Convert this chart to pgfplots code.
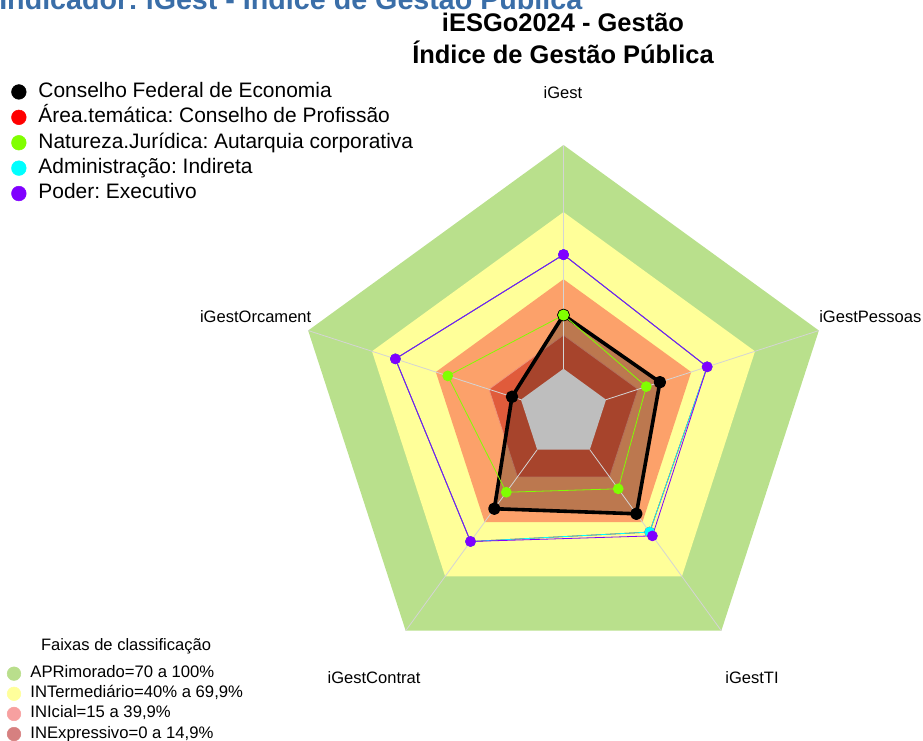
\documentclass[border=0pt]{standalone}
\usepackage{pgfplots}
\pgfplotsset{compat=1.18}
\usepackage{pgfplotstable}
\usepackage{fontspec}
\setmainfont{Liberation Sans}
\usepackage{graphicx}

\definecolor{bApr}{RGB}{185,224,140}
\definecolor{bInt}{RGB}{255,255,153}
\definecolor{bIni}{RGB}{252,161,106}
\definecolor{bInx}{RGB}{224,91,59}
\definecolor{bCen}{RGB}{190,190,190}
\definecolor{gridc}{RGB}{212,212,212}
\definecolor{cPur}{RGB}{128,0,255}
\definecolor{cGre}{RGB}{128,255,0}
\definecolor{cCya}{RGB}{0,255,255}
\definecolor{cRed}{RGB}{255,0,0}
\definecolor{tBlue}{RGB}{58,110,168}
\definecolor{lApr}{RGB}{185,222,140}
\definecolor{lInt}{RGB}{255,255,155}
\definecolor{lIni}{RGB}{247,160,160}
\definecolor{lInx}{RGB}{214,128,128}

% axes: iGest, iGestPessoas, iGestTI, iGestContrat, iGestOrcament (first row repeated to close)
\pgfplotstableread{
ang apr int ini inx zero
90 100 70 40 15 0
18 100 70 40 15 0
-54 100 70 40 15 0
-126 100 70 40 15 0
162 100 70 40 15 0
90 100 70 40 15 0
}\bands

\pgfplotstableread{
ang cfe area nat adm pod
90 24 51 24 51 51
18 25.3 47.5 18.9 47.5 47.5
-54 35.4 45.5 21.6 45.5 47.6
-126 32.6 50.7 23.5 50.7 50.7
162 4.2 59 34.4 59 59
90 24 51 24 51 51
}\data

\pgfplotsset{
  /pgfplots/table/rad/.style={
    x expr={(\thisrow{#1}+20)/120*cos(\thisrow{ang})},
    y expr={(\thisrow{#1}+20)/120*sin(\thisrow{ang})}},
  ledot/.style 2 args={legend image code/.code={\fill[#1] (0pt,0pt) circle (#2);}}
}

\begin{document}
\frenchspacing
\begin{tikzpicture}
\useasboundingbox (0,0) rectangle (692.25pt,555pt);
\clip (0,0) rectangle (692.25pt,555pt);
\begin{axis}[at={(0,0)}, anchor=south west, scale only axis,
  width=692.25pt, height=555pt,
  xmin=-2.09870, xmax=1.33892, ymin=-1.21601, ymax=1.54004,
  hide axis, clip=false,
  legend style={at={(axis description cs:0,1)}, anchor=north west,
    xshift=8.25pt, yshift=-61.25pt, draw=none, fill=none, inner sep=0pt,
    row sep=4.05pt,
    nodes={inner sep=0pt, text height=11.5pt, text depth=3.5pt},
    font=\fontsize{15.7}{18}\selectfont\frenchspacing,
    /tikz/every odd column/.append style={column sep=9pt}},
  legend cell align=left]
\addplot[forget plot, draw=none, fill=bApr] table[rad=apr] {\bands};
\addplot[forget plot, draw=none, fill=bInt] table[rad=int] {\bands};
\addplot[forget plot, draw=none, fill=bIni] table[rad=ini] {\bands};
\addplot[forget plot, draw={rgb,255:red,236;green,150;blue,128}, line width=0.5pt, fill=bInx] table[rad=inx] {\bands};
\addplot[forget plot, draw=none, fill=black, fill opacity=0.25] table[rad=cfe] {\data};
\addplot[forget plot, draw=none, fill=bCen] table[rad=zero] {\bands};
\pgfplotsinvokeforeach{90,18,-54,-126,162}{
  \draw[gridc, line width=0.6pt] (axis cs:{cos(#1)/6},{sin(#1)/6}) -- (axis cs:{cos(#1)},{sin(#1)});
}
\addplot[forget plot, black, line width=2.7pt, line join=round, mark=*, mark size=3.3pt] table[rad=cfe] {\data};
\addplot[forget plot, cRed, line width=0.6pt, mark=*, mark size=3.7pt, mark options={fill=cRed}] table[rad=area] {\data};
\addplot[forget plot, cGre, line width=0.6pt, mark=*, mark size=3.7pt, mark options={fill=cGre}] table[rad=nat] {\data};
\addplot[forget plot, cCya, line width=0.6pt, mark=*, mark size=3.7pt, mark options={fill=cCya}] table[rad=adm] {\data};
\addplot[forget plot, cPur, line width=0.6pt, mark=*, mark size=3.7pt, mark options={fill=cPur}] table[rad=pod] {\data};

\addlegendimage{ledot={black}{5.5pt}}
\addlegendentry{Conselho Federal de Economia}
\addlegendimage{ledot={cRed}{5.5pt}}
\addlegendentry{Área.temática: Conselho de Profissão}
\addlegendimage{ledot={cGre}{5.5pt}}
\addlegendentry{Natureza.Jurídica: Autarquia corporativa}
\addlegendimage{ledot={cCya}{5.5pt}}
\addlegendentry{Administração: Indireta}
\addlegendimage{ledot={cPur}{5.5pt}}
\addlegendentry{Poder: Executivo}
\end{axis}

\begin{axis}[at={(0,0)}, anchor=south west, scale only axis,
  width=692.25pt, height=555pt,
  xmin=0, xmax=1, ymin=0, ymax=1, hide axis,
  legend style={at={(axis description cs:0,0)}, anchor=south west,
    xshift=5pt, yshift=-1.75pt, draw=none, fill=none, inner sep=0pt,
    row sep=3.1pt,
    nodes={inner sep=0pt, text height=9pt, text depth=3pt},
    font=\fontsize{12.5}{15}\selectfont\frenchspacing,
    /tikz/every odd column/.append style={column sep=7pt}},
  legend cell align=left]
\addlegendimage{ledot={lApr}{5.1pt}}
\addlegendentry{APRimorado=70 a 100\%}
\addlegendimage{ledot={lInt}{5.1pt}}
\addlegendentry{INTermediário=40\% a 69,9\%}
\addlegendimage{ledot={lIni}{5.1pt}}
\addlegendentry{INIcial=15 a 39,9\%}
\addlegendimage{ledot={lInx}{5.1pt}}
\addlegendentry{INExpressivo=0 a 14,9\%}
\end{axis}

\begin{scope}[x=0.75pt, y=-0.75pt, shift={(0,555pt)}]
\node[anchor=base west, inner sep=0pt, text=tBlue, font=\fontsize{21.5}{24}\selectfont\bfseries] at (-1,10) {Indicador: iGest - Índice de Gestão Pública};
\node[anchor=base, inner sep=0pt, font=\fontsize{19.1}{22}\selectfont\bfseries] at (563,32) {iESGo2024 - Gestão};
\node[anchor=base, inner sep=0pt, font=\fontsize{19.1}{22}\selectfont\bfseries] at (563,64) {Índice de Gestão Pública};
\node[anchor=base, inner sep=0pt, font=\fontsize{12.4}{15}\selectfont] at (563,99) {iGest};
\node[anchor=base west, inner sep=0pt, font=\fontsize{12.4}{15}\selectfont] at (819,322) {iGestPessoas};
\node[anchor=base east, inner sep=0pt, font=\fontsize{12.4}{15}\selectfont] at (311.5,322) {iGestOrcament};
\node[anchor=base, inner sep=0pt, font=\fontsize{12.4}{15}\selectfont] at (374,683) {iGestContrat};
\node[anchor=base, inner sep=0pt, font=\fontsize{12.4}{15}\selectfont] at (752,683) {iGestTI};
\node[anchor=base, inner sep=0pt, font=\fontsize{12.4}{15}\selectfont] at (126,650) {Faixas de classificação};
\end{scope}
\end{tikzpicture}
\end{document}
